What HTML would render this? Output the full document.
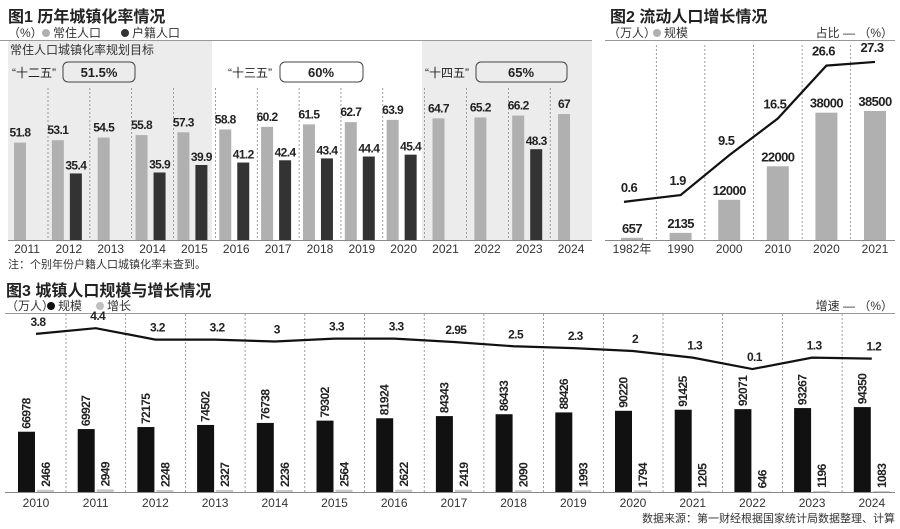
<!DOCTYPE html>
<html><head><meta charset="utf-8">
<style>
html,body{margin:0;padding:0;background:#fff;}
svg{display:block;font-family:"Liberation Sans","Noto Sans CJK SC",sans-serif;}
.num{font-family:"Liberation Sans",sans-serif;font-weight:bold;letter-spacing:-0.6px;}
</style></head>
<body>
<svg id="s" width="900" height="529" viewBox="0 0 900 529" xmlns="http://www.w3.org/2000/svg">
<g>
  <rect x="8" y="41" width="204" height="199" fill="#ececec"/>
  <rect x="422" y="41" width="170" height="199" fill="#ececec"/>
  <text x="8" y="22" font-size="16" font-weight="bold" fill="#222">图1  历年城镇化率情况</text>
  <text x="8" y="37" font-size="12" fill="#333">（%）</text>
  <circle cx="46" cy="33" r="4" fill="#b0b0b0"/>
  <text x="53" y="37" font-size="12" fill="#333">常住人口</text>
  <circle cx="125" cy="33" r="4" fill="#333"/>
  <text x="132" y="37" font-size="12" fill="#333">户籍人口</text>
  <line x1="0" y1="40.5" x2="592" y2="40.5" stroke="#999"/>
  <text x="10" y="54" font-size="12" fill="#333">常住人口城镇化率规划目标</text>
  <text x="12" y="77" font-size="12" fill="#222">“十二五”</text>
  <rect x="63" y="62" width="72" height="20" rx="5" fill="none" stroke="#444"/>
  <text x="99" y="77" font-size="13" font-weight="bold" text-anchor="middle" fill="#222">51.5%</text>
  <text x="228" y="77" font-size="12" fill="#222">“十三五”</text>
  <rect x="280" y="62" width="83" height="20" rx="5" fill="none" stroke="#444"/>
  <text x="321" y="77" font-size="13" font-weight="bold" text-anchor="middle" fill="#222">60%</text>
  <text x="425" y="77" font-size="12" fill="#222">“十四五”</text>
  <rect x="476" y="62" width="91" height="20" rx="5" fill="none" stroke="#444"/>
  <text x="521" y="77" font-size="13" font-weight="bold" text-anchor="middle" fill="#222">65%</text>
  <g id="f1"></g>
  <line x1="8" y1="240.5" x2="592" y2="240.5" stroke="#888"/>
  <text x="8" y="268" font-size="11" fill="#333">注：个别年份户籍人口城镇化率未查到。</text>
</g>
<g>
  <text x="610" y="22" font-size="16" font-weight="bold" fill="#222">图2 流动人口增长情况</text>
  <text x="608" y="37" font-size="12" fill="#333">（万人）</text>
  <circle cx="657" cy="33" r="4" fill="#b0b0b0"/>
  <text x="664" y="37" font-size="12" fill="#333">规模</text>
  <text x="893" y="37" font-size="12" fill="#333" text-anchor="end">占比 — （%）</text>
  <line x1="605" y1="40.5" x2="895" y2="40.5" stroke="#999"/>
  <g id="f2"></g>
  <line x1="605" y1="240.5" x2="895" y2="240.5" stroke="#888"/>
</g>
<g>
  <text x="6" y="296" font-size="16" font-weight="bold" fill="#222">图3 城镇人口规模与增长情况</text>
  <text x="6" y="310" font-size="12" fill="#333">（万人）</text>
  <circle cx="51" cy="306" r="4" fill="#111"/>
  <text x="58" y="310" font-size="12" fill="#333">规模</text>
  <circle cx="100" cy="306" r="4" fill="#c0c0c0"/>
  <text x="107" y="310" font-size="12" fill="#333">增长</text>
  <text x="893" y="310" font-size="12" fill="#333" text-anchor="end">增速 — （%）</text>
  <line x1="5" y1="313.5" x2="895" y2="313.5" stroke="#999"/>
  <g id="f3"></g>
  <line x1="5" y1="492.5" x2="895" y2="492.5" stroke="#888"/>
  <text x="895" y="522" font-size="11" fill="#333" text-anchor="end">数据来源：第一财经根据国家统计局数据整理、计算</text>
</g>
</svg>
<script>
const f1Years=["2011","2012","2013","2014","2015","2016","2017","2018","2019","2020","2021","2022","2023","2024"];
const f1Resident=[51.8,53.1,54.5,55.8,57.3,58.8,60.2,61.5,62.7,63.9,64.7,65.2,66.2,67];
const f1Hukou=[null,35.4,null,35.9,39.9,41.2,42.4,43.4,44.4,45.4,null,null,48.3,null];

const f2Cats=["1982年","1990","2000","2010","2020","2021"];
const f2Scale=[657,2135,12000,22000,38000,38500];
const f2Share=[0.6,1.9,9.5,16.5,26.6,27.3];

const f3Years=["2010","2011","2012","2013","2014","2015","2016","2017","2018","2019","2020","2021","2022","2023","2024"];
const f3Size=[66978,69927,72175,74502,76738,79302,81924,84343,86433,88426,90220,91425,92071,93267,94350];
const f3Growth=[2466,2949,2248,2327,2236,2564,2622,2419,2090,1993,1794,1205,646,1196,1083];
const f3Rate=[3.8,4.4,3.2,3.2,3,3.3,3.3,2.95,2.5,2.3,2,1.3,0.1,1.3,1.2];

const NS="http://www.w3.org/2000/svg";
function mk(p,tag,a,txt){const e=document.createElementNS(NS,tag);for(const k in a)e.setAttribute(k,a[k]);if(txt!=null)e.textContent=txt;p.appendChild(e);return e;}

// Fig1
(function(){
const g=document.getElementById('f1');
const base=240, k=1.88, x0=27, step=41.85;
const x=i=>x0+i*step, y=v=>base-v*k;
f1Years.forEach((yr,i)=>{
  const c=x(i);
  if(i<f1Years.length-1){
    const l=mk(g,'line',{x1:c+21,y1:88,x2:c+21,y2:240,stroke:'#777','stroke-dasharray':'2,2','stroke-width':0.7});
    
    
  }
  const gx=f1Hukou[i]==null?c-13:c-17;
  const b=mk(g,'rect',{x:gx,y:y(f1Resident[i]),width:12,height:f1Resident[i]*k,fill:'#b0b0b0'});
  
  
  const t=mk(g,'text',{x:gx+6,y:y(f1Resident[i])-6,'font-size':12,'text-anchor':'middle',class:'num',fill:'#222'},String(f1Resident[i]));
  
  
  if(f1Hukou[i]!=null){
    const d=mk(g,'rect',{x:c+1,y:y(f1Hukou[i]),width:12,height:f1Hukou[i]*k,fill:'#333'});
    
    
    const dt=mk(g,'text',{x:c+7,y:y(f1Hukou[i])-4,'font-size':12,'text-anchor':'middle',class:'num',fill:'#222'},String(f1Hukou[i]));
    
    
  }
  const yl=mk(g,'text',{x:c,y:253,'font-size':12,'text-anchor':'middle',fill:'#333'},yr);
  
  
});
})();

// Fig2
(function(){
const g=document.getElementById('f2');
const base=240, kb=129/38500, x0=632, step=48.6, lz=205, kl=5.24;
const x=i=>x0+i*step, yb=v=>base-v*kb, yl=v=>lz-v*kl;
f2Cats.forEach((c,i)=>{
  if(i<f2Cats.length-1){
    const l=mk(g,'line',{x1:x(i)+24.3,y1:45,x2:x(i)+24.3,y2:240,stroke:'#777','stroke-dasharray':'2,2','stroke-width':0.7});
    
    
  }
  const b=mk(g,'rect',{x:x(i)-11,y:yb(f2Scale[i]),width:22,height:f2Scale[i]*kb,fill:'#b0b0b0'});
  
  
  const t=mk(g,'text',{x:x(i),y:yb(f2Scale[i])-5,'font-size':13,'text-anchor':'middle',class:'num',fill:'#222'},String(f2Scale[i]));
  
  
  const lt=mk(g,'text',{x:x(i)-3,y:yl(f2Share[i])-10,'font-size':13,'text-anchor':'middle',class:'num',fill:'#222'},String(f2Share[i]));
  
  
  const xl=mk(g,'text',{x:x(i),y:253,'font-size':12,'text-anchor':'middle',fill:'#333'},c);
  
  
});
const pts=f2Share.map((v,i)=>(i==0?x(i)-8:x(i))+','+yl(v)).join(' ');
const pl=mk(g,'polyline',{points:pts,fill:'none',stroke:'#111','stroke-width':2.2});


})();

// Fig3
(function(){
const g=document.getElementById('f3');
const base=492, kb=0.0009, x0=36, step=59.7, lz=370, kl=9.5;
const x=i=>x0+i*step, yb=v=>base-v*kb, yl=v=>lz-v*kl;
f3Years.forEach((yr,i)=>{
  const c=x(i);
  if(i<f3Years.length-1){
    const l=mk(g,'line',{x1:c+30,y1:314,x2:c+30,y2:492,stroke:'#777','stroke-dasharray':'2,2','stroke-width':0.7});
    
    
  }
  const b=mk(g,'rect',{x:c-18,y:yb(f3Size[i]),width:17,height:f3Size[i]*kb,fill:'#111'});
  
  
  const bx=c-9.5, by=yb(f3Size[i])-3;
  const t=mk(g,'text',{x:bx,y:by,'font-size':12,transform:`rotate(-90 ${bx} ${by})`,'dominant-baseline':'central',class:'num',fill:'#222'},String(f3Size[i]));
  
  
  const gb=mk(g,'rect',{x:c+1,y:yb(f3Growth[i]),width:17,height:f3Growth[i]*kb,fill:'#c8c8c8'});
  
  
  const gx=c+10, gy=yb(f3Growth[i])-3;
  const gt=mk(g,'text',{x:gx,y:gy,'font-size':12,transform:`rotate(-90 ${gx} ${gy})`,'dominant-baseline':'central',class:'num',fill:'#222'},String(f3Growth[i]));
  
  
  const rt=mk(g,'text',{x:c+2,y:yl(f3Rate[i])-8,'font-size':12,'text-anchor':'middle',class:'num',fill:'#222'},String(f3Rate[i]));
  
  
  const xl=mk(g,'text',{x:c,y:507,'font-size':12,'text-anchor':'middle',fill:'#333'},yr);
  
  
});
const pts=f3Rate.map((v,i)=>x(i)+','+yl(v)).join(' ');
const pl=mk(g,'polyline',{points:pts,fill:'none',stroke:'#111','stroke-width':2.2});


})();
</script>
</body></html>
